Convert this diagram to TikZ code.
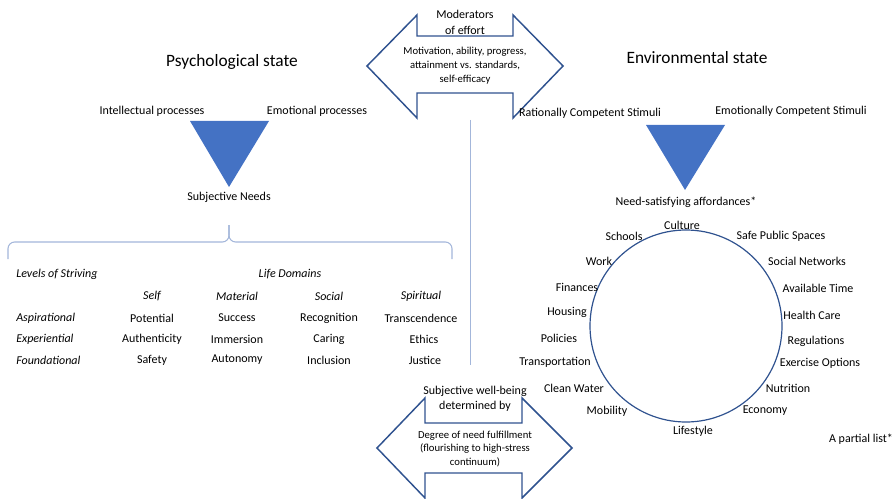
\documentclass[tikz,border=0pt]{standalone}
\usepackage{fontspec}
\setmainfont{Carlito}
\definecolor{arrowblue}{HTML}{2F528F}
\definecolor{trifill}{HTML}{4472C4}
\definecolor{linegrey}{HTML}{A3B6DA}

\begin{document}
\begin{tikzpicture}[x=0.75pt,y=-0.75pt,
    lbl/.style={font=\fontsize{9}{11}\selectfont, inner sep=0pt},
    rowlbl/.style={font=\fontsize{9}{11}\selectfont\itshape, inner sep=0pt, anchor=west},
    hdr/.style={font=\fontsize{9}{11}\selectfont\itshape, inner sep=0pt},
    title/.style={font=\fontsize{13}{15}\selectfont, inner sep=0pt},
    arrtxt/.style={font=\fontsize{8}{10.5}\selectfont, align=center, inner sep=0pt},
    dblarrow/.style={arrowblue, line width=1.1pt, line join=miter}]
        \useasboundingbox (0,0) rectangle (895,499);
        \clip (0,0) rectangle (895,499);

        % moderators (top double arrow)
        \draw[dblarrow](367,66)--(417,15)--(417,36)--(513,36)--(513,15)--(563,66)--(513,118)--(513,93)--(417,93)--(417,118)--cycle;
        \node[lbl, align=center, font=\fontsize{9}{12}\selectfont] (mod) at (465,22) {Moderators\\of effort};
        \node[arrtxt] (modbody) at (465,66) {Motivation, ability, progress,\\attainment vs. standards,\\self-efficacy};

        % well-being (bottom double arrow)
        \draw[dblarrow](377,448)--(425,398)--(425,423)--(522,423)--(522,398)--(572,448)--(522,498)--(522,473)--(425,473)--(425,498)--cycle;
        \node[lbl, align=center, font=\fontsize{9}{11.25}\selectfont] (swb) at (475,399) {Subjective well-being\\determined by};
        \node[arrtxt, font=\fontsize{8}{10}\selectfont] (swbbody) at (475,449) {Degree of need fulfillment\\(flourishing to high-stress\\continuum)};

        \draw[linegrey, line width=0.7pt](470,120)--(470,365);

        % psychological side
        \node[title] (psy) at (232,62) {Psychological state};
        \node[lbl] (intel) at (152,111) {Intellectual processes};
        \node[lbl] (emo) at (317,111) {Emotional processes};
        \fill[trifill](190,121)--(269,121)--(229,187)--cycle;
        \node[lbl] (needs) at (229,197) {Subjective Needs};

        \draw[linegrey, line width=0.8pt, rounded corners=5](229,225)--(229,242)--(8,242)--(8,259);
        \draw[linegrey, line width=0.8pt, rounded corners=5](229,225)--(229,242)--(452,242)--(452,259);

        \node[rowlbl] (levels) at (16,274) {Levels of Striving};
        \node[hdr] (domains) at (290,274) {Life Domains};
        \node[hdr] (self) at (152,296) {Self};
        \node[hdr] (material) at (237,296) {Material};
        \node[hdr] (social) at (329,296) {Social};
        \node[hdr] (spiritual) at (421,296) {Spiritual};

        \node[rowlbl] (asp) at (16,318) {Aspirational};
        \node[lbl] (potential) at (152,318) {Potential};
        \node[lbl] (success) at (237,318) {Success};
        \node[lbl] (recognition) at (329,318) {Recognition};
        \node[lbl] (transcendence) at (421,318) {Transcendence};

        \node[rowlbl] (exp) at (16,339) {Experiential};
        \node[lbl] (authenticity) at (152,339) {Authenticity};
        \node[lbl] (immersion) at (237,339) {Immersion};
        \node[lbl] (caring) at (329,339) {Caring};
        \node[lbl] (ethics) at (424,339) {Ethics};

        \node[rowlbl] (found) at (16,360) {Foundational};
        \node[lbl] (safety) at (152,360) {Safety};
        \node[lbl] (autonomy) at (237,360) {Autonomy};
        \node[lbl] (inclusion) at (329,360) {Inclusion};
        \node[lbl] (justice) at (425,360) {Justice};

        % environmental side
        \node[title] (env) at (697,58) {Environmental state};
        \node[lbl] (rcs) at (590,113) {Rationally Competent Stimuli};
        \node[lbl] (ecs) at (791,111) {Emotionally Competent Stimuli};
        \fill[trifill](646,125)--(725,125)--(685,190)--cycle;
        \node[lbl] (afford) at (686,202) {Need-satisfying affordances*};

        \draw[arrowblue, line width=0.9pt](686,326) circle[radius=96];

        \node[lbl] (culture) at (682,225) {Culture};
        \node[lbl] (schools) at (624,236) {Schools};
        \node[lbl] (spaces) at (781,236) {Safe Public Spaces};
        \node[lbl] (work) at (599,261) {Work};
        \node[lbl] (networks) at (807,261) {Social Networks};
        \node[lbl] (finances) at (577,287) {Finances};
        \node[lbl] (time) at (818,288) {Available Time};
        \node[lbl] (housing) at (567,312) {Housing};
        \node[lbl] (health) at (812,315) {Health Care};
        \node[lbl] (policies) at (559,338) {Policies};
        \node[lbl] (regulations) at (816,341) {Regulations};
        \node[lbl] (transport) at (555,362) {Transportation};
        \node[lbl] (exercise) at (820,363) {Exercise Options};
        \node[lbl] (water) at (574,388) {Clean Water};
        \node[lbl] (nutrition) at (788,388) {Nutrition};
        \node[lbl] (mobility) at (607,411) {Mobility};
        \node[lbl] (economy) at (765,411) {Economy};
        \node[lbl] (lifestyle) at (693,431) {Lifestyle};
        \node[lbl] (partial) at (861,439) {A partial list*};

    \end{tikzpicture}
\end{document}
